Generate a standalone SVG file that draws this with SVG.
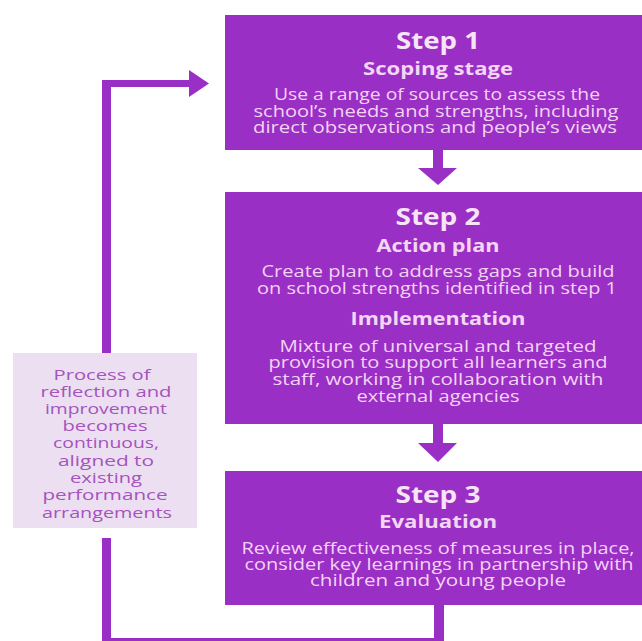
<svg xmlns="http://www.w3.org/2000/svg" width="642" height="641" viewBox="0 0 642 641">
<style>
.box{fill:#9a2fc6}
.ln{fill:#9a2fc6}
text{font-family:"Open Sans","Noto Sans","DejaVu Sans",sans-serif;text-anchor:middle}
.h1{font-size:23px;font-weight:bold;fill:#f7e4f7}
.h2{font-size:18px;font-weight:bold;fill:#f3d6f3}
.b{font-size:15.5px;fill:#f3d3f3}
.side{fill:#ecdff1}
.st{font-size:15px;fill:#a553bd}
</style>
<rect width="642" height="641" fill="#ffffff"/>
<g id="connectors">
  <rect class="ln" x="433" y="150" width="10" height="20"/>
  <polygon class="ln" points="418,168 457,168 438,185"/>
  <rect class="ln" x="433" y="424" width="10" height="21"/>
  <polygon class="ln" points="418,443 457,443 438,462"/>
  <rect class="ln" x="434" y="605" width="10" height="36"/>
  <rect class="ln" x="102" y="638" width="342" height="8"/>
  <rect class="ln" x="102" y="538" width="9" height="103"/>
  <rect class="ln" x="102" y="80" width="9" height="273"/>
  <rect class="ln" x="102" y="80" width="90" height="7"/>
  <polygon class="ln" points="189,70 209,83.5 189,97"/>
</g>
<g id="step1">
  <rect class="box" x="225" y="15" width="417" height="135"/>
  <text class="h1" x="438" y="49" textLength="84" lengthAdjust="spacingAndGlyphs">Step 1</text>
  <text class="h2" x="438" y="75" textLength="150" lengthAdjust="spacingAndGlyphs">Scoping stage</text>
  <text class="b" x="437" y="100" textLength="326" lengthAdjust="spacingAndGlyphs">Use a range of sources to assess the</text>
  <text class="b" x="436" y="117" textLength="365" lengthAdjust="spacingAndGlyphs">school’s needs and strengths, including</text>
  <text class="b" x="435" y="133" textLength="364" lengthAdjust="spacingAndGlyphs">direct observations and people’s views</text>
</g>
<g id="step2">
  <rect class="box" x="225" y="192" width="417" height="232"/>
  <text class="h1" x="438" y="225" textLength="85" lengthAdjust="spacingAndGlyphs">Step 2</text>
  <text class="h2" x="438" y="252" textLength="123" lengthAdjust="spacingAndGlyphs">Action plan</text>
  <text class="b" x="438" y="277" textLength="353" lengthAdjust="spacingAndGlyphs">Create plan to address gaps and build</text>
  <text class="b" x="437" y="294" textLength="360" lengthAdjust="spacingAndGlyphs">on school strengths identified in step 1</text>
  <text class="h2" x="438" y="325" textLength="175" lengthAdjust="spacingAndGlyphs">Implementation</text>
  <text class="b" x="438" y="352" textLength="317" lengthAdjust="spacingAndGlyphs">Mixture of universal and targeted</text>
  <text class="b" x="438" y="368" textLength="339" lengthAdjust="spacingAndGlyphs">provision to support all learners and</text>
  <text class="b" x="438" y="385" textLength="331" lengthAdjust="spacingAndGlyphs">staff, working in collaboration with</text>
  <text class="b" x="438" y="402" textLength="163" lengthAdjust="spacingAndGlyphs">external agencies</text>
</g>
<g id="step3">
  <rect class="box" x="225" y="471" width="417" height="134"/>
  <text class="h1" x="438" y="503" textLength="85" lengthAdjust="spacingAndGlyphs">Step 3</text>
  <text class="h2" x="438" y="528" textLength="118" lengthAdjust="spacingAndGlyphs">Evaluation</text>
  <text class="b" x="438" y="554" textLength="393" lengthAdjust="spacingAndGlyphs">Review effectiveness of measures in place,</text>
  <text class="b" x="439" y="570" textLength="389" lengthAdjust="spacingAndGlyphs">consider key learnings in partnership with</text>
  <text class="b" x="438" y="586" textLength="256" lengthAdjust="spacingAndGlyphs">children and young people</text>
</g>
<g id="note">
  <rect class="side" x="13" y="353" width="184" height="175"/>
  <text class="st" x="102" y="380" textLength="97" lengthAdjust="spacingAndGlyphs">Process of</text>
  <text class="st" x="106" y="397" textLength="131" lengthAdjust="spacingAndGlyphs">reflection and</text>
  <text class="st" x="106" y="414" textLength="122" lengthAdjust="spacingAndGlyphs">improvement</text>
  <text class="st" x="105" y="431" textLength="85" lengthAdjust="spacingAndGlyphs">becomes</text>
  <text class="st" x="106" y="448" textLength="106" lengthAdjust="spacingAndGlyphs">continuous,</text>
  <text class="st" x="106" y="466" textLength="96" lengthAdjust="spacingAndGlyphs">aligned to</text>
  <text class="st" x="106" y="483" textLength="72" lengthAdjust="spacingAndGlyphs">existing</text>
  <text class="st" x="105" y="500" textLength="125" lengthAdjust="spacingAndGlyphs">performance</text>
  <text class="st" x="107" y="518" textLength="130" lengthAdjust="spacingAndGlyphs">arrangements</text>
</g>
</svg>
